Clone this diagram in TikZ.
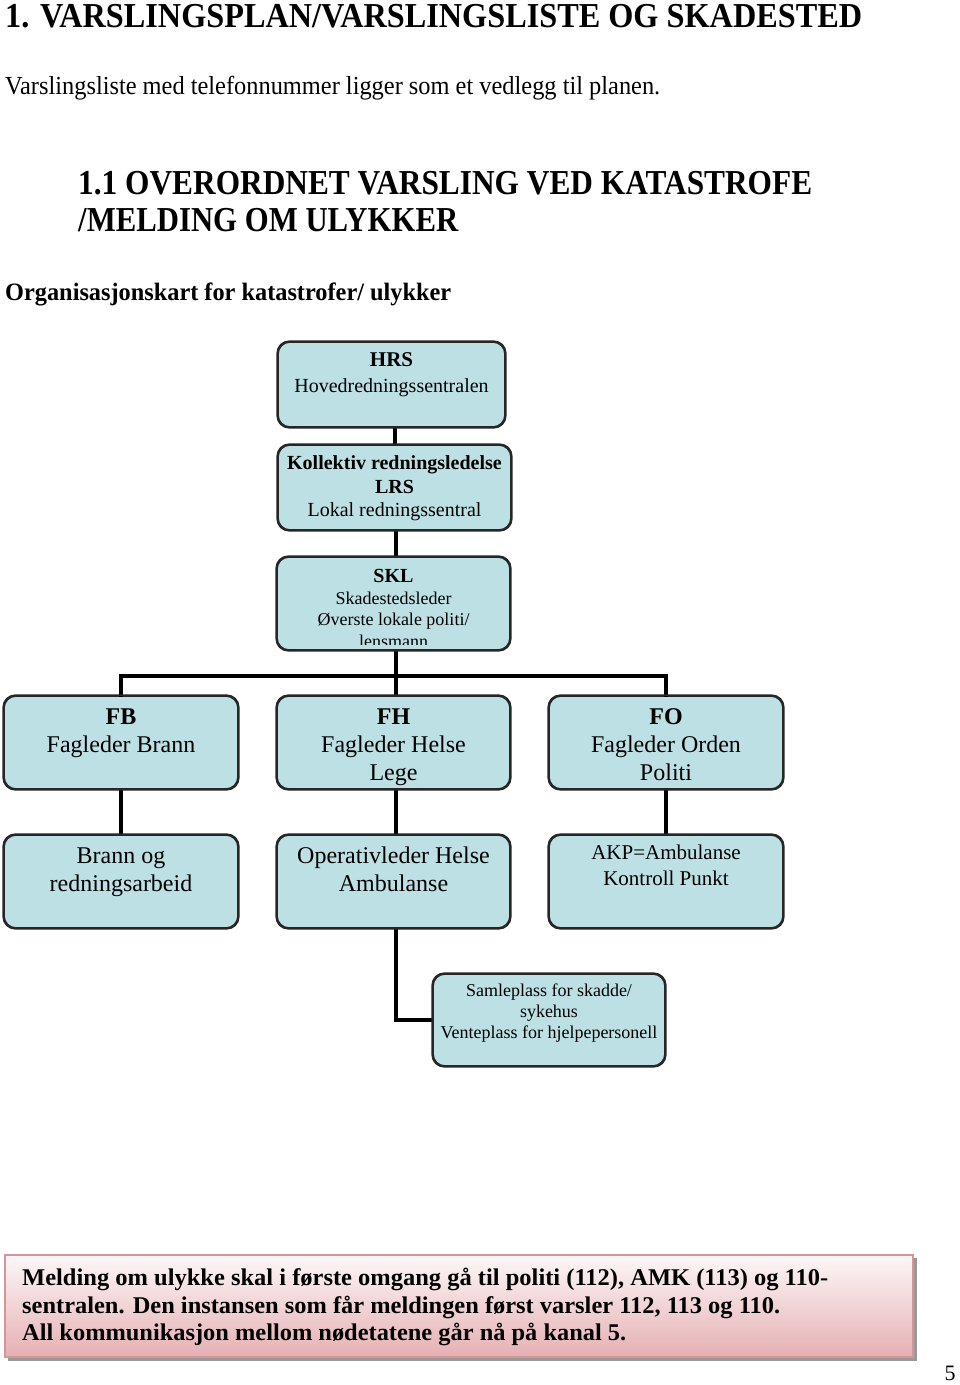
\documentclass[tikz,border=0pt]{standalone}
\usepackage{fontspec}
\setmainfont{Liberation Serif}
\usepackage{graphicx}
\definecolor{boxblue}{RGB}{189,224,228}
\definecolor{pinkbot}{RGB}{229,176,180}
\definecolor{pinktop}{RGB}{253,247,247}
\definecolor{pinkedge}{RGB}{214,150,152}
\newcommand{\fitw}[2]{\resizebox{#1}{\height}{#2}}
\newcommand{\fs}[1]{\fontsize{#1}{#1}\selectfont}
\tikzset{
  orgbox/.style={draw=black!85, line width=1.6pt, fill=boxblue, rounded corners=12pt, inner sep=0pt},
  conn/.style={line width=4.5pt, black},
  ln/.style={inner sep=0pt, anchor=base},
  lw/.style={inner sep=0pt, anchor=base west},
}
\begin{document}
\begin{tikzpicture}[x=1pt, y=-1pt]
\useasboundingbox (0,0) rectangle (960,1385);

% headings
\node[lw] (title) at (5,27) {\fitw{857pt}{\fs{35}\bfseries 1. VARSLINGSPLAN/VARSLINGSLISTE OG SKADESTED}};
\node[lw] (sub) at (5,94) {\fitw{655pt}{\fs{26}Varslingsliste med telefonnummer ligger som et vedlegg til planen.}};
\node[lw] (h11a) at (78,194) {\fitw{734pt}{\fs{35}\bfseries 1.1 OVERORDNET VARSLING VED KATASTROFE}};
\node[lw] (h11b) at (78,231) {\fitw{380pt}{\fs{35}\bfseries /MELDING OM ULYKKER}};
\node[lw] (org) at (5,300) {\fitw{446pt}{\fs{25}\bfseries Organisasjonskart for katastrofer/ ulykker}};

% boxes
\node[orgbox, minimum width=227pt, minimum height=85pt] (hrs) at (391.5,384.5) {};
\node[orgbox, minimum width=233pt, minimum height=85pt] (lrs) at (394.5,487.5) {};
\node[orgbox, minimum width=233pt, minimum height=93pt] (skl) at (393.5,603.5) {};
\node[orgbox, minimum width=234pt, minimum height=93pt] (fb) at (121,742.5) {};
\node[orgbox, minimum width=233pt, minimum height=93pt] (fh) at (393.5,742.5) {};
\node[orgbox, minimum width=234pt, minimum height=93pt] (fo) at (666,742.5) {};
\node[orgbox, minimum width=234pt, minimum height=93pt] (brann) at (121,881.5) {};
\node[orgbox, minimum width=233pt, minimum height=93pt] (oper) at (393.5,881.5) {};
\node[orgbox, minimum width=234pt, minimum height=93pt] (akp) at (666,881.5) {};
\node[orgbox, minimum width=232pt, minimum height=92pt] (samle) at (549,1020) {};

% connectors
\coordinate (bar) at (396,676);
\draw[conn] (hrs.south -| 395,0) -- (lrs.north -| 395,0);
\draw[conn] (lrs.south -| 396,0) -- (skl.north -| 396,0);
\draw[conn] (skl.south -| bar) -- (bar);
\draw[conn, line cap=rect] (fb.north) |- (bar) -| (fo.north);
\draw[conn] (bar) -- (fh.north -| bar);
\draw[conn] (fb.south) -- (brann.north);
\draw[conn] (fh.south -| bar) -- (oper.north -| bar);
\draw[conn] (fo.south) -- (akp.north);
\draw[conn] (oper.south -| bar) |- (samle.west);

% redraw box outlines over connector ends
\foreach \b in {hrs,lrs,skl,fb,fh,fo,brann,oper,akp,samle}{
  \draw[draw=black!85, line width=1.6pt, rounded corners=12pt] (\b.north west) rectangle (\b.south east);
}

% box texts
\node[ln] (hrs1) at (391.5,366) {\fs{21}\bfseries HRS};
\node[ln] (hrs2) at (391.5,392) {\fs{20}Hovedredningssentralen};

\node[ln] (lrs1) at (394.5,469) {\fs{20}\bfseries Kollektiv redningsledelse};
\node[ln] (lrs2) at (394.5,493) {\fs{20}\bfseries LRS};
\node[ln] (lrs3) at (394.5,516) {\fs{20}Lokal redningssentral};

\node[ln] (skl1) at (393.5,582) {\fs{20}\bfseries SKL};
\node[ln] (skl2) at (393.5,604) {\fs{18}Skadestedsleder};
\node[ln] (skl3) at (393.5,625) {\fs{18}Øverste lokale politi/};
\begin{scope}
\clip (278,558) rectangle (509,644);
\node[ln] (skl4) at (393.5,647) {\fs{18}lensmann};
\end{scope}

\node[ln] (fb1) at (121,724) {\fs{24}\bfseries FB};
\node[ln] (fb2) at (121,752) {\fs{24}Fagleder Brann};
\node[ln] (fh1) at (393.5,724) {\fs{24}\bfseries FH};
\node[ln] (fh2) at (393.5,752) {\fs{24}Fagleder Helse};
\node[ln] (fh3) at (393.5,780) {\fs{24}Lege};
\node[ln] (fo1) at (666,724) {\fs{24}\bfseries FO};
\node[ln] (fo2) at (666,752) {\fs{24}Fagleder Orden};
\node[ln] (fo3) at (666,780) {\fs{24}Politi};

\node[ln] (br1) at (121,863) {\fs{24}Brann og};
\node[ln] (br2) at (121,891) {\fs{24}redningsarbeid};
\node[ln] (op1) at (393.5,863) {\fs{24}Operativleder Helse};
\node[ln] (op2) at (393.5,891) {\fs{24}Ambulanse};
\node[ln] (akp1) at (666,859) {\fs{21}AKP=Ambulanse};
\node[ln] (akp2) at (666,885) {\fs{21}Kontroll Punkt};

\node[ln] (sa1) at (549,996) {\fs{18}Samleplass for skadde/};
\node[ln] (sa2) at (549,1017) {\fs{18}sykehus};
\node[ln] (sa3) at (549,1038) {\fs{18}Venteplass for hjelpepersonell};

% bottom message box
\fill[black!40] (8,1258) rectangle (917,1361);
\shade[top color=pinktop, bottom color=pinkbot] (5,1255) rectangle (913,1357);
\draw[pinkedge, line width=1.2pt] (5,1255) rectangle (913,1357);
\node[lw] (m1) at (22,1285) {\fitw{806pt}{\fs{24}\bfseries Melding om ulykke skal i første omgang gå til politi (112), AMK (113) og 110-}};
\node[lw] (m2) at (22,1313) {\fitw{758pt}{\fs{24}\bfseries sentralen. Den instansen som får meldingen først varsler 112, 113 og 110.}};
\node[lw] (m3) at (22,1340) {\fitw{604pt}{\fs{24}\bfseries All kommunikasjon mellom nødetatene går nå på kanal 5.}};

\node[ln] (page) at (950,1380) {\fs{22}5};
\end{tikzpicture}
\end{document}
